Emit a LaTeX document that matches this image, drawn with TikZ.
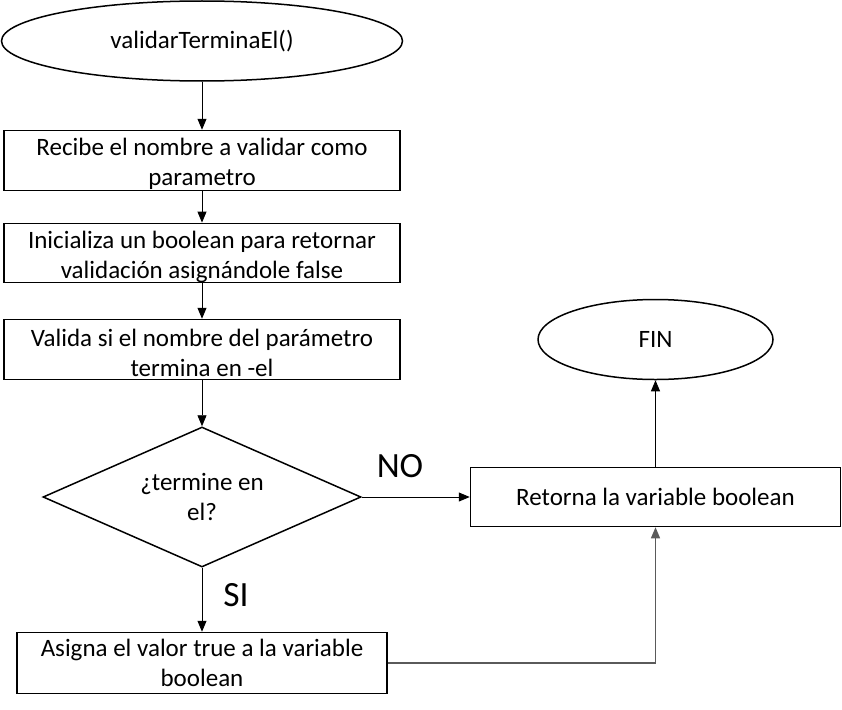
\documentclass[tikz,border=0pt]{standalone}
\usepackage{fontspec}
\setmainfont{Carlito}
\usetikzlibrary{shapes.geometric,arrows.meta}
\definecolor{linegray}{RGB}{90,90,90}
\newcommand{\topstrut}{\rule{0pt}{25pt}}
\tikzset{
  base/.style={draw=black,line width=1.5pt,inner sep=0pt,align=center,
    font=\fontsize{25}{30}\selectfont,text=black},
  term/.style={base,ellipse},
  procbox/.style={base,rectangle},
  decision/.style={base,diamond,aspect=2.27},
  arr/.style={-{Triangle[length=11pt,width=9pt]},line width=0.9pt},
  lbl/.style={font=\fontsize{35.5}{40}\selectfont,inner sep=0pt}
}
\begin{document}
\begin{tikzpicture}[x=1pt,y=-1pt]
\useasboundingbox (0,0) rectangle (842,709);
\node[term,minimum width=401pt,minimum height=80pt] (start) at (202,41) {validarTerminaEl()};
\node[procbox,minimum width=396pt,minimum height=60pt] (b1) at (202,160.5) {\topstrut Recibe el nombre a validar como\\parametro};
\node[procbox,minimum width=396pt,minimum height=59pt] (b2) at (202,253) {\topstrut Inicializa un boolean para retornar\\validación asignándole false};
\node[procbox,minimum width=396pt,minimum height=60pt] (b3) at (202,349.5) {\topstrut Valida si el nombre del parámetro\\termina en -el};
\node[decision,minimum width=318pt,minimum height=140pt] (dec) at (202,497) {¿termine en\\el?};
\node[procbox,minimum width=370pt,minimum height=61pt] (b4) at (202,663) {Asigna el valor true a la variable\\boolean};
\node[procbox,minimum width=370pt,minimum height=59pt] (b5) at (655.5,497) {Retorna la variable boolean};
\node[term,minimum width=235pt,minimum height=80pt] (fin) at (655.5,339.5) {FIN};
\node[lbl] (no) at (400,466) {NO};
\node[lbl] (si) at (236,595) {SI};
\draw[arr] (start) -- (b1);
\draw[arr] (b1) -- (b2);
\draw[arr] (b2) -- (b3);
\draw[arr] (b3) -- (dec);
\draw[arr] (dec.east) -- (b5.west);
\draw[arr] (dec.south) -- (b4.north);
\draw[arr,draw=linegray,line width=1.2pt] (b4.east) -| (b5.south);
\draw[arr] (b5.north) -- (fin.south);
\end{tikzpicture}
\end{document}
